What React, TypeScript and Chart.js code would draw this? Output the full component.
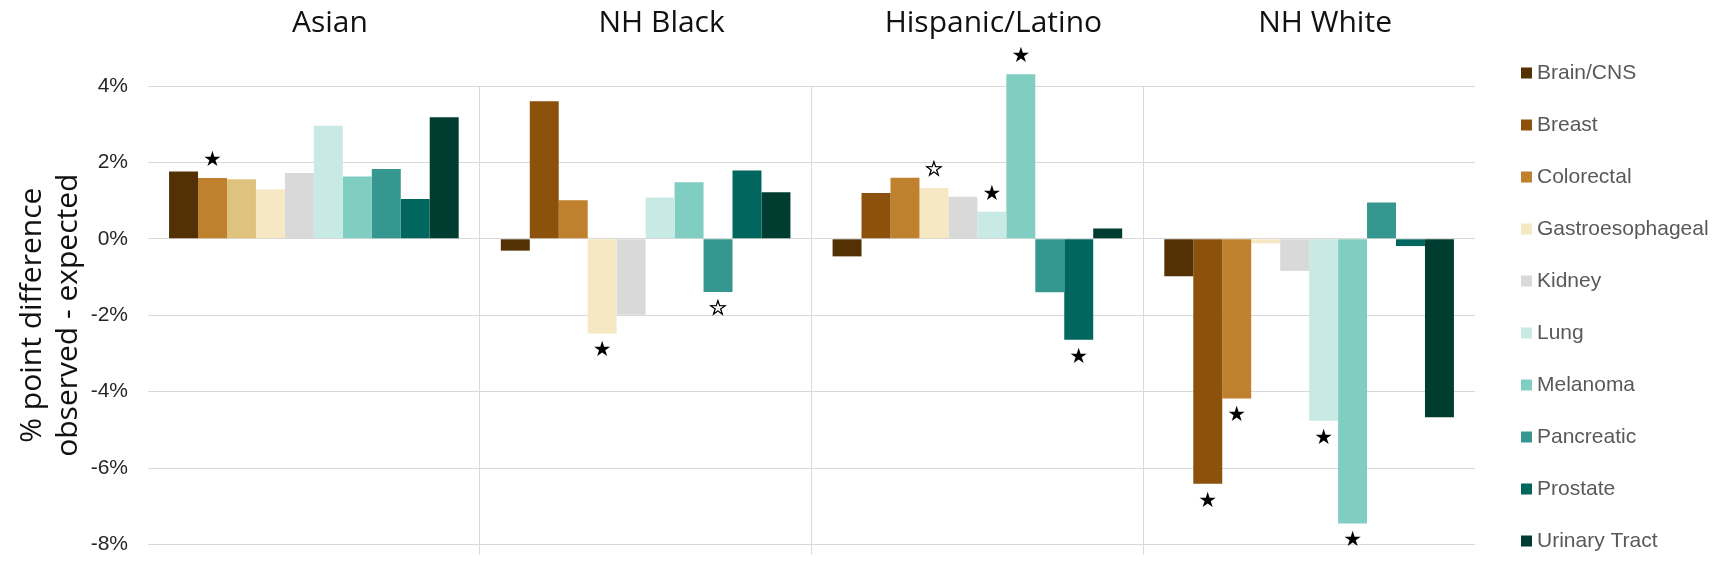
import { useEffect, useRef } from 'react';
import { Chart, registerables } from 'chart.js';

Chart.register(...registerables);

// ---- data ----
const groups = ['Asian', 'NH Black', 'Hispanic/Latino', 'NH White'];
const seriesNames = [
  'Brain/CNS', 'Breast', 'Colorectal', 'Gastroesophageal', 'Kidney',
  'Lung', 'Melanoma', 'Pancreatic', 'Prostate', 'Urinary Tract',
];

const brainCNS = [1.76, -0.31, -0.46, -0.98];
const breast = [1.59, 3.6, 1.2, -6.41];
const colorectal = [1.56, 1.01, 1.6, -4.18];
const gastroesophageal = [1.29, -2.48, 1.33, -0.12];
const kidney = [1.72, -1.99, 1.1, -0.84];
const lung = [2.96, 1.08, 0.71, -4.76];
const melanoma = [1.63, 1.48, 4.31, -7.45];
const pancreatic = [1.83, -1.39, -1.4, 0.95];
const prostate = [1.04, 1.79, -2.64, -0.19];
const urinaryTract = [3.18, 1.22, 0.27, -4.67];

const seriesValues = [
  brainCNS, breast, colorectal, gastroesophageal, kidney,
  lung, melanoma, pancreatic, prostate, urinaryTract,
];

// significance markers: 0 = none, 1 = hollow star, 2 = filled star
const sigBrainCNS = [0, 0, 0, 0];
const sigBreast = [2, 0, 0, 2];
const sigColorectal = [0, 0, 0, 2];
const sigGastroesophageal = [0, 2, 1, 0];
const sigKidney = [0, 0, 0, 0];
const sigLung = [0, 0, 2, 2];
const sigMelanoma = [0, 0, 2, 2];
const sigPancreatic = [0, 1, 0, 0];
const sigProstate = [0, 0, 2, 0];
const sigUrinaryTract = [0, 0, 0, 0];

const significance = [
  sigBrainCNS, sigBreast, sigColorectal, sigGastroesophageal, sigKidney,
  sigLung, sigMelanoma, sigPancreatic, sigProstate, sigUrinaryTract,
];

const yTicks = [-8, -6, -4, -2, 0, 2, 4];

// ---- styles ----
const legendColors = [
  '#543005', '#8c510a', '#bf812d', '#f6e8c3', '#d9d9d9',
  '#c7eae5', '#80cdc1', '#35978f', '#01665e', '#003c30',
];
// per-group bar colours (the Asian panel uses a shifted palette for Breast / Colorectal)
const barColors = legendColors.map((c, i) => {
  if (i === 1) return ['#bf812d', c, c, c];
  if (i === 2) return ['#dfc27d', c, c, c];
  return [c, c, c, c];
});

const starPlugin = {
  id: 'sigStars',
  afterDatasetsDraw(chart: any) {
    const ctx = chart.ctx;
    ctx.save();
    ctx.font = '21px "DejaVu Sans"';
    ctx.textAlign = 'center';
    ctx.textBaseline = 'middle';
    ctx.fillStyle = '#000';
    ctx.strokeStyle = '#000';
    ctx.lineWidth = 0.6;
    chart.data.datasets.forEach((ds: any, i: number) => {
      const meta = chart.getDatasetMeta(i);
      meta.data.forEach((el: any, j: number) => {
        const s = significance[i][j];
        if (!s) return;
        const v = ds.data[j] as number;
        const y = v >= 0 ? el.y - 17.5 : el.y + 17.5;
        const glyph = s === 2 ? '\u2605' : '\u2606';
        ctx.fillText(glyph, el.x, y);
        if (s === 1) ctx.strokeText(glyph, el.x, y);
      });
    });
    ctx.restore();
  },
};

const sideLegend = {
  id: 'sideLegend',
  afterDraw(chart: any) {
    const { ctx, chartArea } = chart;
    ctx.save();
    ctx.font = '21px "Liberation Sans"';
    ctx.textBaseline = 'middle';
    ctx.textAlign = 'left';
    seriesNames.forEach((name, i) => {
      const cy = chartArea.top - 13 + i * 52;
      const bx = chartArea.right + 46;
      ctx.fillStyle = legendColors[i];
      ctx.fillRect(bx, cy - 5.5, 11, 11);
      ctx.fillStyle = '#595959';
      ctx.fillText(name, bx + 16, cy);
    });
    ctx.restore();
  },
};

export default function App() {
  const ref = useRef<HTMLCanvasElement>(null);

  useEffect(() => {
    if (!ref.current) return;
    const chart = new Chart(ref.current, {
      type: 'bar',
      data: {
        labels: groups,
        datasets: seriesNames.map((name, i) => ({
          label: name,
          data: seriesValues[i],
          backgroundColor: barColors[i],
          borderWidth: 0,
          categoryPercentage: 0.873,
          barPercentage: 1.0,
          clip: false as any,
        })),
      },
      options: {
        animation: false,
        responsive: true,
        maintainAspectRatio: false,
        events: [],
        layout: { padding: { left: 0, top: 0, right: 247, bottom: 0 } },
        plugins: {
          legend: { display: false },
          tooltip: { enabled: false },
        },
        scales: {
          x: {
            type: 'category',
            position: 'bottom',
            offset: true,
            grid: {
              offset: true,
              color: (c: any) =>
                c.index > 0 && c.index < groups.length ? '#d9d9d9' : 'rgba(0,0,0,0)',
              lineWidth: 1,
              drawTicks: true,
              tickLength: 10,
              drawOnChartArea: true,
            },
            border: { display: false },
            ticks: { display: false },
            afterFit: (s: any) => {
              s.height = 10;
            },
          },
          xTop: {
            type: 'category',
            position: 'top',
            offset: true,
            grid: { display: false, drawTicks: false },
            border: { display: false },
            ticks: {
              font: { family: 'Open Sans', size: 30 },
              color: '#111111',
              padding: 45,
              labelOffset: 16,
              maxRotation: 0,
              autoSkip: false,
            },
            afterFit: (s: any) => {
              s.height = 86;
            },
          },
          y: {
            min: yTicks[0],
            max: yTicks[yTicks.length - 1],
            afterBuildTicks: (s: any) => {
              s.ticks = yTicks.map((v) => ({ value: v }));
            },
            ticks: {
              callback: (v: any) => `${v}%`,
              font: { family: 'Liberation Sans', size: 21 },
              color: '#262626',
              padding: 20,
            },
            grid: { color: '#d9d9d9', drawTicks: false, lineWidth: 1 },
            border: { display: false },
            title: {
              display: true,
              text: ['% point difference', 'observed - expected'],
              font: { family: 'Open Sans', size: 30, lineHeight: 1.2 },
              color: '#111111',
              padding: { top: 14, bottom: 0 },
            },
            afterFit: (s: any) => {
              s.width = 148;
            },
          },
        },
      },
      plugins: [starPlugin, sideLegend],
    } as any);
    return () => chart.destroy();
  }, []);

  return (
    <div
      style={{
        position: 'fixed',
        left: 0,
        top: 0,
        width: 1722,
        height: 577,
        background: '#ffffff',
      }}
    >
      <canvas ref={ref} />
    </div>
  );
}
